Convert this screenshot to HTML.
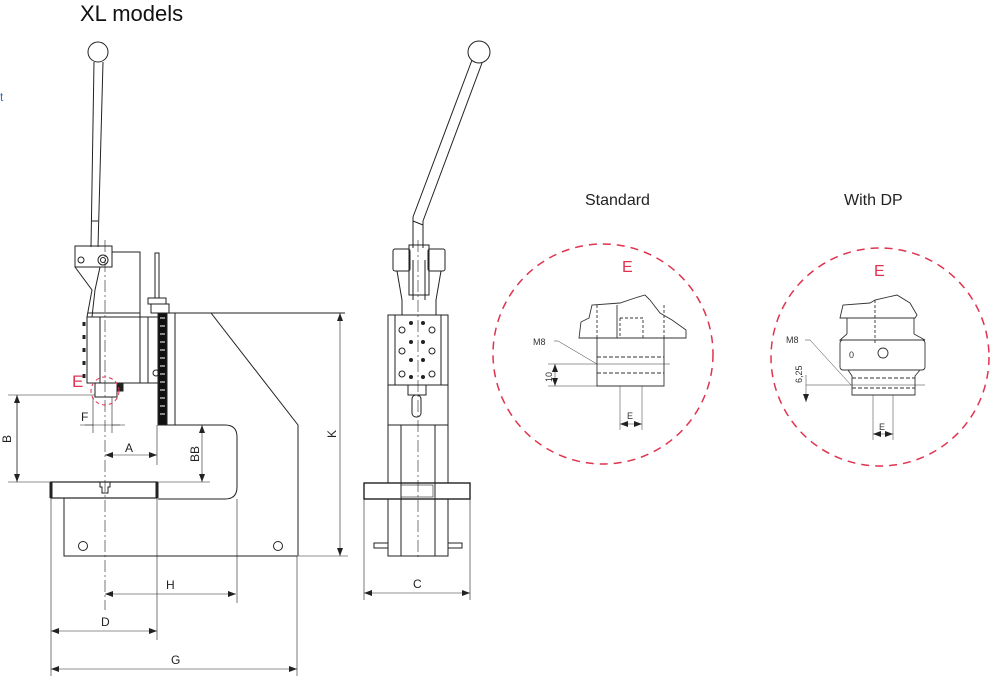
<!DOCTYPE html>
<html><head><meta charset="utf-8"><style>
html,body{margin:0;padding:0;background:#fff;}
svg{display:block;}
text{font-family:"Liberation Sans",sans-serif;}
</style></head><body>
<svg width="1000" height="682" viewBox="0 0 1000 682" xmlns="http://www.w3.org/2000/svg">
<defs>
<marker id="ar" markerWidth="8" markerHeight="6" refX="8" refY="3" orient="auto-start-reverse" markerUnits="userSpaceOnUse"><path d="M0,0 L8,3 L0,6 z" fill="#222"/></marker>
</defs>
<text x="80" y="21" font-size="22" fill="#111">XL models</text>
<text x="0" y="101" font-size="12" fill="#3a6fb0">t</text>

<g fill="none" stroke="#222" stroke-width="1">
<!-- LEFT PRESS -->
<circle cx="98" cy="52" r="10" fill="#fff"/>
<path d="M94,62 L91,247 M103,62 L98,247"/>
<path d="M91,221 L98,221"/>
<rect x="75" y="246" width="37" height="21"/>
<circle cx="81" cy="260" r="3"/><circle cx="103" cy="260" r="5"/><circle cx="103" cy="260" r="2.5"/>
<path d="M112,252 H140 V317 M112,252 V246"/>
<path d="M75,267 L92,290 L87,317 M100,267 L95,290 L92,317 M88,313 H140"/>
<rect x="87" y="317" width="53" height="66"/>
<path d="M100,317 V383"/>
<path d="M84,322 v4 M84,335 v4 M84,348 v4 M84,361 v4 M84,374 v4" stroke-width="3"/>
<rect x="140" y="317" width="18" height="66"/>
<path d="M148,317 V383"/>
<circle cx="156" cy="373" r="3"/>
<rect x="158" y="313" width="9" height="112" fill="#111"/>
<path d="M160,318 h5 M160,326 h5 M160,334 h5 M160,342 h5 M160,350 h5 M160,358 h5 M160,366 h5 M160,374 h5 M160,382 h5 M160,390 h5 M160,398 h5 M160,406 h5 M160,414 h5" stroke="#fff"/>
<rect x="167" y="313" width="8" height="112"/>
<rect x="155" y="253" width="4" height="45"/>
<rect x="148" y="298" width="18" height="6"/>
<rect x="151" y="304" width="18" height="9"/>
<path d="M175,313 H211 L298,425 V556"/>
<path d="M211,313 H345"/>
<path d="M175,425 H225 Q237,425 237,437 V487 Q237,499 225,499 H158"/>
<rect x="51" y="482" width="106" height="16" stroke-width="1.2"/>
<path d="M51,482 V498 M157,482 V498" stroke-width="3"/>
<path d="M100,482 v5 h2 v6 h6 v-6 h2 v-5"/>
<path d="M64,498 V556 H297"/>
<circle cx="83" cy="546" r="4.5"/><circle cx="278" cy="546" r="4.5"/>
<rect x="95" y="383" width="22" height="14"/>
<rect x="117" y="384" width="6" height="7" fill="#222"/>
<!-- centerline -->
<path d="M105,240 V610" stroke-width="0.6" stroke-dasharray="12,3,2,3"/>
<!-- dims left -->
<g stroke-width="0.6">
<path d="M8,395 H95 M8,482 H210 M17,395 V482" />
<path d="M17,395 V482" marker-start="url(#ar)" marker-end="url(#ar)"/>
<path d="M93,397 V433 M112,397 V433 M80,425 H125"/>
<path d="M93,425 h-8 M112,425 h8" />
<path d="M105,455 H157" marker-start="url(#ar)" marker-end="url(#ar)"/>
<path d="M157,425 V465"/>
<path d="M202,425 V482" marker-start="url(#ar)" marker-end="url(#ar)"/>
<path d="M340,313 V556" marker-start="url(#ar)" marker-end="url(#ar)"/>
<path d="M297,556 H348"/>
<path d="M237,499 V603 M157,498 V640 M51,498 V676 M297,556 V676"/>
<path d="M105,594 H236" marker-start="url(#ar)" marker-end="url(#ar)"/>
<path d="M51,631 H157" marker-start="url(#ar)" marker-end="url(#ar)"/>
<path d="M51,669 H297" marker-start="url(#ar)" marker-end="url(#ar)"/>
</g>
<circle cx="105" cy="391" r="14" stroke="#e0334f" stroke-dasharray="4,3"/>

<!-- RIGHT (SIDE) VIEW -->
<circle cx="479" cy="52" r="11" fill="#fff"/>
<path d="M472,60 L413,217 M482,63 L423,221 M413,217 L413,248 M423,221 V248 M413,221 L423,225"/>
<rect x="393" y="249" width="17" height="22" rx="2"/>
<rect x="428" y="249" width="17" height="22" rx="2"/>
<rect x="409" y="245" width="20" height="50"/>
<path d="M397,271 L402,300 V315 M441,271 L436,300 V315 M413,260 V300 M425,260 V300"/>
<rect x="388" y="315" width="60" height="70"/>
<rect x="395" y="315" width="46" height="70"/>
<g fill="#222" stroke="none">
<circle cx="411" cy="323" r="2"/><circle cx="423" cy="323" r="2"/>
<circle cx="411" cy="342" r="2"/><circle cx="423" cy="342" r="2"/>
<circle cx="411" cy="360" r="2"/><circle cx="423" cy="360" r="2"/>
<circle cx="411" cy="377" r="2"/><circle cx="423" cy="377" r="2"/>
</g>
<circle cx="402" cy="330" r="3"/><circle cx="432" cy="330" r="3"/>
<circle cx="402" cy="351" r="3"/><circle cx="432" cy="351" r="3"/>
<circle cx="402" cy="374" r="3"/><circle cx="432" cy="374" r="3"/>
<rect x="408" y="385" width="18" height="10"/>
<rect x="412" y="395" width="9" height="22" rx="4"/>
<path d="M388,385 V425 H448 V385"/>
<rect x="388" y="425" width="60" height="58"/>
<path d="M401,425 V556 M435,425 V556"/>
<rect x="364" y="483" width="106" height="16" stroke-width="1.4"/>
<rect x="401" y="485" width="32" height="12" stroke-width="0.6"/>
<path d="M388,499 V556 H448 V499"/>
<path d="M388,543 h-14 v5 h14 M448,543 h14 v5 h-14"/>
<path d="M418,240 V560" stroke-width="0.6" stroke-dasharray="12,3,2,3"/>
<g stroke-width="0.6">
<path d="M364,499 V600 M470,499 V600"/>
<path d="M364,593 H470" marker-start="url(#ar)" marker-end="url(#ar)"/>
</g>
</g>

<g font-size="12" fill="#222">
<text x="81" y="421">F</text>
<text x="125" y="452">A</text>
<text x="0" y="0" transform="translate(11,443) rotate(-90)">B</text>
<text x="0" y="0" transform="translate(199,462) rotate(-90)">BB</text>
<text x="0" y="0" transform="translate(336,438) rotate(-90)">K</text>
<text x="166" y="589">H</text>
<text x="101" y="626">D</text>
<text x="171" y="664">G</text>
<text x="413" y="588">C</text>
</g>
<text x="72" y="387" font-size="17" fill="#e0334f">E</text>

<!-- DETAILS -->
<text x="585" y="205" font-size="16" fill="#222">Standard</text>
<text x="844" y="205" font-size="16" fill="#222">With DP</text>
<circle cx="603" cy="354" r="110" fill="none" stroke="#e0334f" stroke-width="1.5" stroke-dasharray="8,6"/>
<circle cx="880" cy="357" r="109" fill="none" stroke="#e0334f" stroke-width="1.5" stroke-dasharray="8,6"/>
<text x="622" y="272" font-size="16" fill="#e0334f">E</text>
<text x="874" y="276" font-size="16" fill="#e0334f">E</text>

<g fill="none" stroke="#333" stroke-width="0.9">
<!-- standard -->
<path d="M579,338 L581,322 L589,318 L592,305 L620,303 L635,298 L645,295 L650,300 L660,313 L672,320 L686,330 L686,338 Z"/>
<path d="M597,338 V386 H664 V338"/>
<path d="M617,305 V338" />
<path d="M620,318 H643 V338 M620,318 V338" stroke-dasharray="3,2"/>
<path d="M597,357 H664 M597,373 H664" stroke-dasharray="4,2"/>
<path d="M597,305 V338 M664,305 V338" stroke-dasharray="3,2"/>
<path d="M548,364 H670" stroke-width="0.5"/>
<path d="M548,386 H597" stroke-width="0.5"/>
<path d="M555,364 V386" stroke-width="0.5" marker-start="url(#ar)" marker-end="url(#ar)"/>
<path d="M620,386 V430 M642,386 V430" stroke-width="0.5"/>
<path d="M620,424 H642" stroke-width="0.5" marker-start="url(#ar)" marker-end="url(#ar)"/>
<path d="M554,341 H558 L597,364" stroke-width="0.5"/>
<!-- DP -->
<path d="M840,318 L843,305 L870,303 L875,300 L897,295 L910,303 L917,315 L915,318 Z"/>
<path d="M847,318 V334 M914,318 V334"/>
<path d="M847,334 L840,340 H925 L914,334" />
<rect x="840" y="340" width="85" height="30" rx="3"/>
<circle cx="883" cy="353" r="5"/>
<text x="849" y="358" font-size="9" fill="#333" stroke="none">0</text>
<path d="M848,370 L852,376 V395 H915 V376 L920,370"/>
<path d="M852,378 H915 M852,388 H915" stroke-dasharray="4,2"/>
<path d="M875,300 V345" stroke-dasharray="3,2"/>
<path d="M806,385 H925" stroke-width="0.5"/>
<path d="M806,375 V402" stroke-width="0.5" marker-end="url(#ar)"/>
<path d="M873,395 V440 M893,395 V440" stroke-width="0.5"/>
<path d="M873,434 H893" stroke-width="0.5" marker-start="url(#ar)" marker-end="url(#ar)"/>
<path d="M805,340 H810 L851,385" stroke-width="0.5"/>
</g>
<g font-size="9" fill="#333">
<text x="533" y="345">M8</text>
<text x="0" y="0" transform="translate(552,382) rotate(-90)">10</text>
<text x="627" y="419">E</text>
<text x="786" y="343">M8</text>
<text x="0" y="0" transform="translate(802,383) rotate(-90)">6,25</text>
<text x="879" y="430">E</text>
</g>
</svg>
</body></html>
